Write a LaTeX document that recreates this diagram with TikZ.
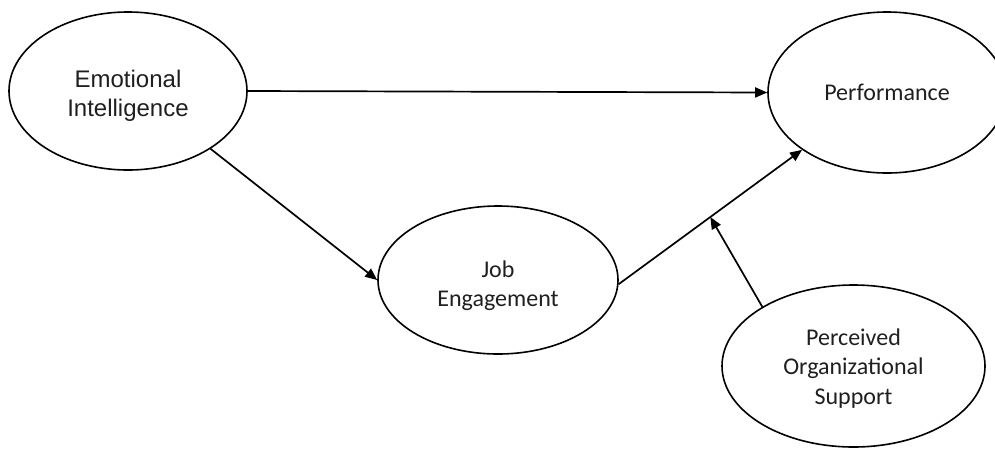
\documentclass[tikz,border=0pt]{standalone}
\usepackage{fontspec}
\setmainfont{Carlito}
\newfontfamily\arialfont{Liberation Sans}
\usetikzlibrary{shapes.geometric,arrows.meta}
\newcommand\dropit[2]{\raisebox{-#1}[\height][\depth]{\begin{tabular}{@{}c@{}}#2\end{tabular}}}
\begin{document}
\begin{tikzpicture}[x=1pt,y=-1pt,
  var/.style={ellipse,draw=black,line width=1.6pt,inner sep=0pt,align=center,
    font=\fontsize{24}{29.5}\selectfont,text=black!88},
  link/.style={line width=1.7pt,-{Triangle[length=12pt,width=10pt]}}]
\useasboundingbox (0,0) rectangle (995,448);
\node[var,minimum width=238pt,minimum height=158pt,font=\arialfont\fontsize{24}{29}\selectfont] (EI) at (128,91) {\dropit{5pt}{Emotional\\Intelligence}};
\node[var,minimum width=238pt,minimum height=161pt] (PF) at (887,92.5) {Performance};
\node[var,minimum width=240pt,minimum height=148pt] (JE) at (498,280) {\dropit{6pt}{Job\\Engagement}};
\node[var,minimum width=263pt,minimum height=162pt] (POS) at (853.5,366) {\dropit{3pt}{Perceived\\Organizational\\Support}};
\draw[link] (EI.east) -- (PF.west);
\draw[link] (EI.-35) -- (JE.west);
\draw[link] (JE.-2) -- coordinate[pos=0.5] (mid) (PF.214);
\draw[link] (POS.147) -- (mid);
\end{tikzpicture}
\end{document}
